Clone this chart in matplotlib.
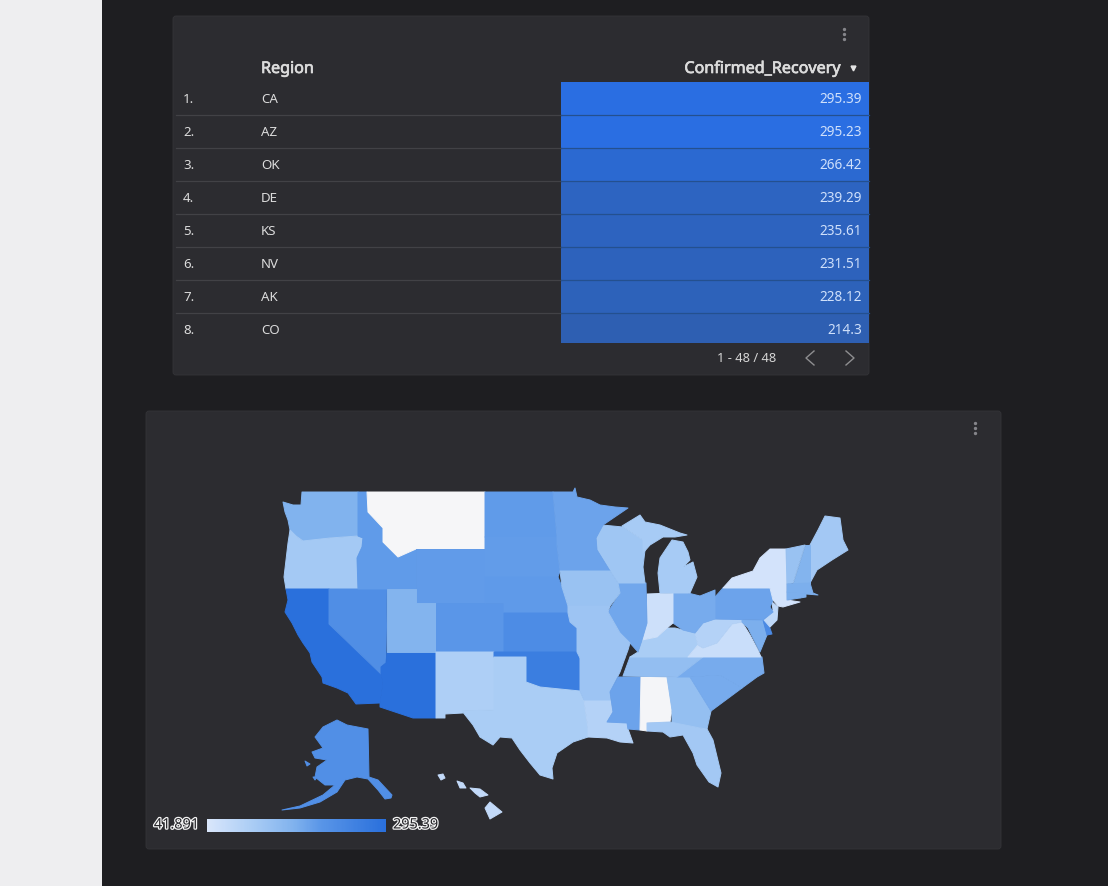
import matplotlib
matplotlib.use("Agg")
import matplotlib.pyplot as plt
import matplotlib.patheffects as pe
from matplotlib.colors import LinearSegmentedColormap, Normalize
from matplotlib.patches import Polygon, Rectangle, FancyBboxPatch
import numpy as np

plt.rcParams['font.family'] = ['Noto Sans', 'DejaVu Sans']

# ---------- data ----------
regions = ["CA", "AZ", "OK", "DE", "KS", "NV", "AK", "CO"]
recovery = [295.39, 295.23, 266.42, 239.29, 235.61, 231.51, 228.12, 214.3]
pager_text = "1 - 48 / 48"
value_min = 41.891
value_max = 295.39

other_state_values = {
    "WA": 180, "OR": 136, "ID": 209, "MT": 42, "WY": 208, "UT": 178, "NM": 125, "ND": 209,
    "SD": 207, "NE": 210, "TX": 130, "MN": 199, "IA": 150, "MO": 145, "AR": 145, "LA": 118,
    "MS": 199, "AL": 44, "GA": 156, "FL": 138, "SC": 189, "NC": 189, "TN": 158, "KY": 130,
    "VA": 92, "WV": 118, "OH": 189, "IN": 88, "IL": 194, "WI": 143, "MI": 133, "PA": 199,
    "NY": 80, "NJ": 105, "MD": 185, "ME": 138, "VT": 150, "NH": 178, "MA": 185, "CT": 185,
    "RI": 185, "HI": 100,
}

# state outlines, in map units
state_shapes = {
    "WA": [[(283,502),(293,505),(301,505),(302,492),(358,492),(358,536),(330,538),(312,541),(303,541),(296,536),(290,530),(288,520),(285,512)]],
    "OR": [[(290,530),(296,536),(303,541),(330,538),(358,536),(363,538),(362,547),(357,558),(358,589),(286,589),(284,577),(286,560),(288,543)]],
    "CA": [[(286,589),(329,589),(329,624),(381,674),(383,683),(380,703),(356,704),(348,693),(337,688),(323,683),(322,677),(312,662),(310,653),(303,643),(298,635),(292,623),(285,612),(288,600)]],
    "NV": [[(329,589),(387,589),(386,663),(381,667),(381,674),(329,624)]],
    "AZ": [[(387,652),(436,652),(436,718),(413,718),(380,707),(380,703),(383,683),(381,674),(381,667),(386,663)]],
    "ID": [[(358,492),(367,492),(368,512),(383,528),(383,542),(398,557),(416,549),(416,589),(358,589),(357,558),(362,547),(363,538),(358,536)]],
    "MT": [[(367,492),(485,492),(485,549),(416,549),(398,557),(383,542),(383,528),(368,512)]],
    "WY": [[(416,549),(485,549),(485,603),(416,603)]],
    "UT": [[(387,589),(416,589),(416,603),(436,603),(436,652),(387,652)]],
    "CO": [[(436,603),(504,603),(504,652),(436,652)]],
    "NM": [[(436,652),(494,652),(494,710),(462,711),(463,713),(445,714),(445,718),(436,718)]],
    "ND": [[(485,492),(553,492),(557,537),(485,537)]],
    "SD": [[(485,537),(557,537),(557,545),(560,571),(558,577),(485,577)]],
    "NE": [[(485,577),(558,577),(562,587),(568,606),(568,613),(504,613),(504,603),(485,603)]],
    "KS": [[(504,613),(568,613),(570,622),(577,628),(577,652),(504,652)]],
    "OK": [[(494,652),(577,652),(580,658),(580,691),(560,689),(540,687),(526,682),(526,657),(494,657)]],
    "TX": [[(494,657),(526,657),(526,682),(540,687),(560,689),(580,691),(584,700),(588,728),(588,737),(573,742),(557,753),(552,768),(553,779),(540,775),(530,763),(520,750),(512,738),(500,737),(493,745),(480,737),(473,725),(462,711),(494,710)]],
    "LA": [[(584,700),(611,700),(613,712),(607,722),(627,723),(628,729),(633,743),(620,742),(607,738),(588,737),(588,728)]],
    "AR": [[(580,658),(625,658),(620,672),(610,692),(611,700),(584,700),(580,691)]],
    "MS": [[(618,677),(641,677),(640,730),(628,729),(627,723),(607,722),(613,712),(610,692)]],
    "AL": [[(641,677),(667,677),(672,710),(670,722),(647,723),(647,731),(640,730)]],
    "GA": [[(667,677),(690,677),(711,711),(707,729),(672,724),(672,710)]],
    "FL": [[(647,723),(670,722),(700,728),(707,729),(713,740),(721,773),(718,787),(709,782),(697,765),(693,753),(683,735),(670,737),(663,732),(647,731)]],
    "SC": [[(690,677),(720,675),(742,688),(711,711)]],
    "NC": [[(703,657),(762,657),(764,673),(757,677),(742,688),(720,675),(690,677),(677,677)]],
    "TN": [[(630,657),(703,657),(677,677),(623,676)]],
    "KY": [[(630,657),(638,652),(642,640),(657,637),(667,628),(675,628),(683,630),(695,633),(698,645),(688,657)]],
    "VA": [[(688,657),(698,645),(703,648),(717,643),(732,624),(742,622),(750,635),(758,650),(761,657)]],
    "WV": [[(695,633),(703,623),(715,619),(742,620),(742,622),(732,624),(717,643),(703,648),(698,645)]],
    "MD": [[(742,620),(763,620),(767,635),(760,652),(754,640),(748,628),(742,622)]],
    "DE": [[(763,620),(767,620),(772,634),(767,635)]],
    "NJ": [[(772,602),(778,607),(777,620),(770,627),(764,620),(773,610)]],
    "PA": [[(715,597),(723,588),(770,588),(773,600),(770,607),(773,612),(763,620),(715,619)]],
    "NY": [[(723,588),(732,578),(753,571),(760,558),(770,549),(786,549),(787,600),(800,602),(783,607),(778,606),(773,600),(770,588)]],
    "OH": [[(673,593),(688,593),(700,596),(715,590),(715,619),(703,623),(695,633),(683,630),(673,623)]],
    "IN": [[(647,594),(673,593),(673,623),(667,628),(657,637),(642,640),(647,623)]],
    "IL": [[(618,583),(646,583),(647,623),(642,640),(638,652),(630,643),(620,633),(608,612),(620,593)]],
    "WI": [[(596,538),(602,525),(623,527),(643,540),(645,550),(643,567),(645,583),(618,583),(610,571),(597,550)]],
    "MI": [[(622,526),(640,515),(645,522),(660,525),(680,533),(687,535),(675,537),(663,537),(650,545),(643,553),(643,540)],
           [(660,593),(658,573),(660,558),(672,540),(683,542),(688,552),(690,560),(683,567),(693,562),(697,577),(690,593)]],
    "MN": [[(553,492),(573,492),(575,488),(577,497),(590,500),(600,505),(615,507),(628,508),(603,525),(596,538),(597,550),(610,571),(560,571),(557,545),(557,537)]],
    "IA": [[(560,571),(610,571),(618,583),(620,593),(610,606),(568,606),(562,587)]],
    "MO": [[(568,606),(610,606),(608,612),(620,633),(630,643),(628,650),(625,658),(580,658),(577,652),(577,628),(570,622),(568,613)]],
    "ME": [[(810,545),(818,530),(825,516),(840,518),(843,540),(848,550),(832,560),(817,570),(810,583)]],
    "NH": [[(805,545),(810,545),(810,583),(793,583)]],
    "VT": [[(786,549),(805,545),(793,583),(787,584)]],
    "MA": [[(787,584),(810,583),(813,593),(818,595),(806,594),(787,592)]],
    "CT": [[(787,592),(800,593),(800,598),(787,600)]],
    "RI": [[(800,593),(806,594),(806,597),(800,598)]],
    "AK": [[(337,720),(347,725),(368,729),(369,777),(378,780),(392,795),(391,798),(385,799),(378,790),(368,779),(357,777),(345,780),(337,792),(320,802),(300,808),(282,810),(300,806),(323,795),(335,785),(325,785),(315,777),(317,767),(327,760),(315,758),(312,752),(323,748),(315,737),(323,727)],
           [(305,761),(310,764),(307,766)],
           [(313,777),(317,777),(315,780)]],
    "HI": [[(490,802),(502,812),(490,819),(485,808)],
           [(470,788),(480,789),(488,795),(480,797),(475,793)],
           [(457,781),(463,783),(466,788),(460,788)],
           [(438,775),(443,774),(445,778),(441,780)]],
}

# ---------- styles ----------
state_values = {**dict(zip(regions, recovery)), **other_state_values}
map_cmap = LinearSegmentedColormap.from_list(
    "m", [(0, "#f6f6f8"), (0.15, "#d3e3fb"), (0.35, "#a9ccf5"), (0.55, "#80b2ee"),
          (0.68, "#5a96e8"), (1, "#2a70dc")], N=256)
bar_cmap = LinearSegmentedColormap.from_list("b", ["#2e5fb2", "#2a6ee2"])
norm = Normalize(value_min, value_max)
bar_norm = Normalize(min(recovery), max(recovery))

fig = plt.figure(figsize=(11.08, 8.86), dpi=100, facecolor="#1e1e21")
ax = fig.add_axes([0, 0, 1, 1])
ax.set_xlim(0, 1108)
ax.set_ylim(886, 0)
ax.axis("off")

# page and cards
ax.add_patch(Rectangle((0, 0), 102, 886, fc="#eeeef0", ec="none"))
for (x0, y0, x1, y1) in [(173, 16, 869, 375), (146, 411, 1001, 849)]:
    ax.add_patch(FancyBboxPatch((x0 + 2, y0 + 2), x1 - x0 - 4, y1 - y0 - 4,
                                boxstyle="round,pad=2,rounding_size=3",
                                fc="#2c2c30", ec="#343438", lw=0.6))

# table
row_top, row_h, table_bottom = 82.0, 33.0, 343.0
text_col = "#dcdcdc"
for i, (reg, val) in enumerate(zip(regions, recovery)):
    y0 = row_top + row_h * i
    y1 = min(y0 + row_h, table_bottom)
    yc = y0 + row_h / 2 + 0.8
    ax.barh((y0 + y1) / 2, 308, height=y1 - y0, left=561, color=bar_cmap(bar_norm(val)), edgecolor="none")
    ax.text(183, yc, f"{i + 1}.", color=text_col, fontsize=9.6, va="center", ha="left")
    ax.text(261, yc, reg, color=text_col, fontsize=9.6, va="center", ha="left")
    ax.text(862, yc, f"{val}", color="#cfe0fb", fontsize=9.8, va="center", ha="right")
    if i > 0:
        ax.plot([176, 561], [y0, y0], color="#424246", lw=0.9)
        ax.plot([561, 869], [y0, y0], color="#24508f", lw=0.9)
head_fx = [pe.withStroke(linewidth=0.5, foreground="#dcdcdc")]
ax.text(261, 69, "Region", color="#dcdcdc", fontsize=11.6, va="center", path_effects=head_fx)
ax.text(841, 69, "Confirmed_Recovery", color="#dcdcdc", fontsize=11.6, va="center", ha="right", path_effects=head_fx)
ax.plot([853], [68], marker="v", ms=3.5, color="#e4e4e4", ls="none")
ax.text(776, 358, pager_text, color="#d4d4d4", fontsize=9.3, va="center", ha="right")
ax.plot([814, 806, 814], [351, 358, 365], color="#8e8e90", lw=1.0)
ax.plot([846, 854, 846], [351, 358, 365], color="#8e8e90", lw=1.0)
for cx, cy in [(843.5, 34), (975, 428)]:
    ax.plot([cx] * 3, [cy - 5, cy, cy + 5], ls="none", marker="o", ms=1.4, color="#85858a")

# map
for code, parts in state_shapes.items():
    col = map_cmap(norm(state_values[code]))
    for pts in parts:
        ax.add_patch(Polygon(pts, closed=True, fc=col, ec=col, lw=0.7, joinstyle="round"))

# legend
grad = np.linspace(0.12, 1, 256).reshape(1, -1)
ax.imshow(grad, extent=(207, 386, 832, 819), cmap=map_cmap, vmin=0, vmax=1, aspect="auto", zorder=3)
ax.set_xlim(0, 1108)
ax.set_ylim(886, 0)
halo = [pe.withStroke(linewidth=1.8, foreground="#f4f4f4")]
ax.text(199, 825, f"{value_min}", color="#26262a", fontsize=10.4, ha="right", va="center", path_effects=halo)
ax.text(393, 825, f"{value_max}", color="#26262a", fontsize=10.4, ha="left", va="center", path_effects=halo)

fig.savefig("out.png", dpi=100, facecolor=fig.get_facecolor())
